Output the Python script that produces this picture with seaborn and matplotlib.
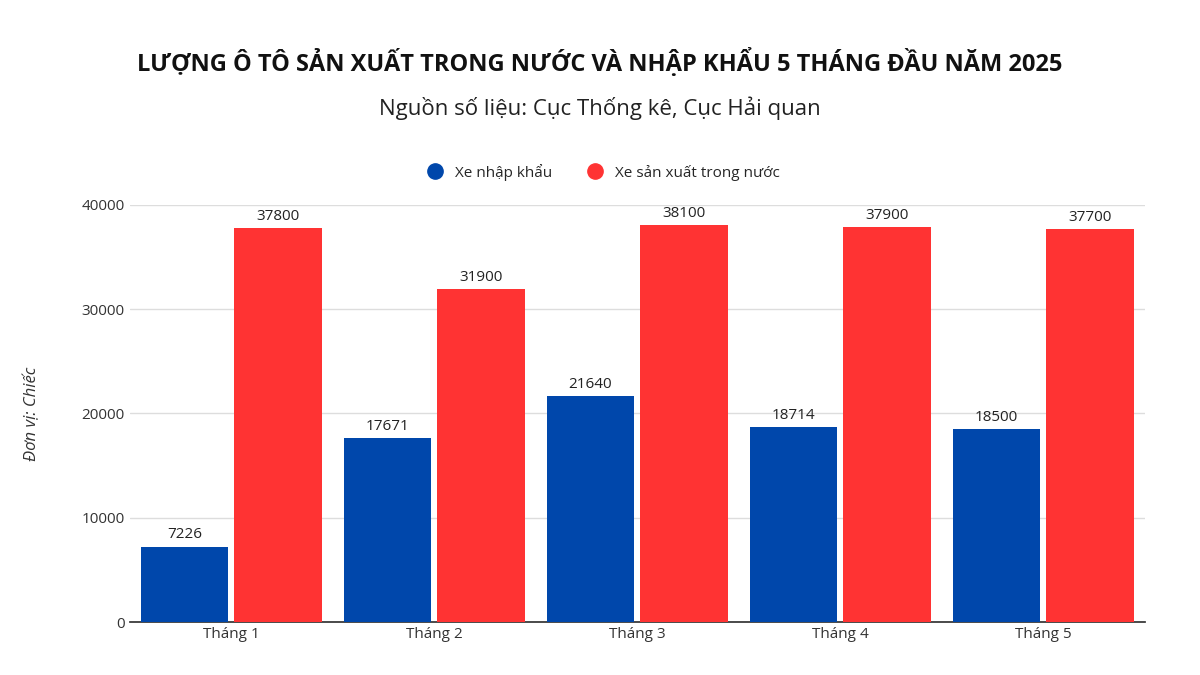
import matplotlib

matplotlib.use("Agg")
import matplotlib.pyplot as plt
import pandas as pd
import seaborn as sns
from matplotlib.lines import Line2D

MONTHS = ["Tháng 1", "Tháng 2", "Tháng 3", "Tháng 4", "Tháng 5"]
IMPORTED = [7226, 17671, 21640, 18714, 18500]
DOMESTIC = [37800, 31900, 38100, 37900, 37700]
SERIES = ["Xe nhập khẩu", "Xe sản xuất trong nước"]
COLORS = ["#0047AB", "#FF3333"]

df = pd.DataFrame({
    "month": MONTHS * 2,
    "value": IMPORTED + DOMESTIC,
    "series": [SERIES[0]] * 5 + [SERIES[1]] * 5,
})

sns.set_theme(style="white")
plt.rcParams["font.family"] = ["Open Sans", "Noto Sans", "DejaVu Sans"]

fig = plt.figure(figsize=(12, 6.75), dpi=100)
ax = fig.add_axes([0.108, 0.0785, 0.846, 0.618])
sns.barplot(data=df, x="month", y="value", hue="series", palette=COLORS,
            saturation=1, width=0.92, gap=0.06, linewidth=0, ax=ax,
            legend=False, zorder=3)

for cont in ax.containers:
    ax.bar_label(cont, fmt="%d", padding=3, fontsize=11, color="#222222")

ax.set_ylim(0, 40000)
ax.set_yticks([0, 10000, 20000, 30000, 40000])
ax.yaxis.grid(True, color="#dddddd", linewidth=1, zorder=0)
ax.set_axisbelow(True)
for s in ["top", "right", "left"]:
    ax.spines[s].set_visible(False)
ax.spines["bottom"].set_color("#333333")
ax.tick_params(axis="both", labelsize=11, colors="#333333", length=0)
ax.set_xlabel("")
ax.set_ylabel("Đơn vị: Chiếc", fontsize=12, style="italic", color="#333333", labelpad=30)

fig.text(0.5, 0.908, "LƯỢNG Ô TÔ SẢN XUẤT TRONG NƯỚC VÀ NHẬP KHẨU 5 THÁNG ĐẦU NĂM 2025",
         ha="center", va="center", fontsize=17, fontweight="bold", color="#111111")
fig.text(0.5, 0.84, "Nguồn số liệu: Cục Thống kê, Cục Hải quan",
         ha="center", va="center", fontsize=16, color="#222222")

handles = [Line2D([], [], marker="o", linestyle="", markersize=11, color=c) for c in COLORS]
fig.legend(handles, SERIES, loc="center", bbox_to_anchor=(0.5, 0.745), ncol=2,
           frameon=False, fontsize=11, handletextpad=0.3, columnspacing=1.8)

fig.savefig("out.png", dpi=100)
